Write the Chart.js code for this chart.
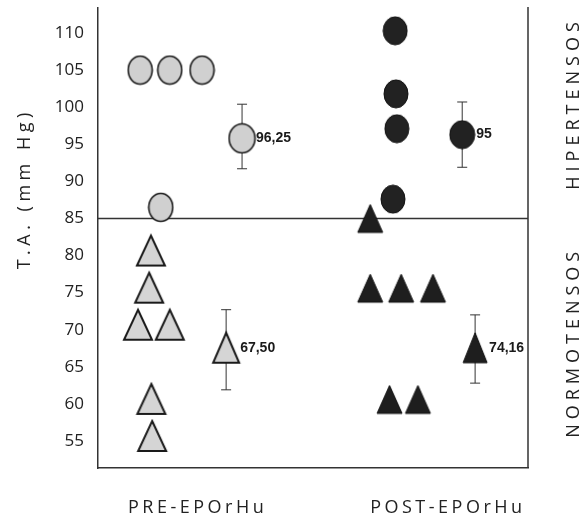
<!DOCTYPE html>
<html>
<head>
<meta charset="utf-8">
<script src="https://cdn.jsdelivr.net/npm/chart.js@4.4.1/dist/chart.umd.min.js"></script>
<style>
  html, body { margin: 0; padding: 0; background: #fff; }
  canvas { display: block; }
</style>
</head>
<body>
<canvas id="chart" width="586" height="518"></canvas>
<script>
// values (y = T.A. mm Hg, x = position inside each column)
const yTicks = [55, 60, 65, 70, 75, 80, 85, 90, 95, 100, 105, 110];
const xTickValues = [22.7, 80.9];
const xTickLabels = ["PRE-EPOrHu", "POST-EPOrHu"];
const cutoff = 85;

const preHiperX = [9.8, 16.7, 24.2, 14.6];
const preHiperY = [105, 105, 105, 86.5];
const preNormoX = [12.3, 11.9, 9.3, 16.7, 12.4, 12.6];
const preNormoY = [80, 75, 70, 70, 60, 55];
const postHiperX = [69.1, 69.3, 69.5, 68.6];
const postHiperY = [110.3, 101.8, 97.1, 87.6];
const postNormoX = [63.3, 63.3, 70.5, 77.9, 67.8, 74.4];
const postNormoY = [84.4, 75, 75, 75, 60, 60];

// group means with error bars
const meanX = [33.5, 29.8, 84.7, 87.7];
const meanY = [95.8, 66.9, 96.3, 66.9];
const meanLow = [91.7, 61.9, 91.9, 62.8];
const meanHigh = [100.4, 72.7, 100.7, 72.0];
const meanLabels = ["96,25", "67,50", "95", "74,16"];
const groupLabels = ["HIPERTENSOS", "NORMOTENSOS"];
const groupCenters = [100.5, 68.3];

Chart.defaults.font.family = "'Open Sans', sans-serif";

function ellipse(w, h, fill, stroke, lw) {
  const c = document.createElement("canvas");
  c.width = w + lw * 2; c.height = h + lw * 2;
  const g = c.getContext("2d");
  g.beginPath();
  g.ellipse(c.width / 2, c.height / 2, w / 2, h / 2, 0, 0, Math.PI * 2);
  g.fillStyle = fill; g.fill();
  g.lineWidth = lw; g.strokeStyle = stroke; g.stroke();
  return c;
}
// centroid of the triangle sits at the canvas centre
function triangle(w, h, fill, stroke, lw) {
  const p = lw * 2;
  const c = document.createElement("canvas");
  c.width = w + p * 2; c.height = Math.round(h * 4 / 3) + p * 2;
  const g = c.getContext("2d");
  const cx = c.width / 2;
  g.beginPath();
  g.moveTo(cx, p); g.lineTo(cx + w / 2, p + h); g.lineTo(cx - w / 2, p + h); g.closePath();
  g.fillStyle = fill; g.fill();
  g.lineWidth = lw; g.strokeStyle = stroke; g.stroke();
  return c;
}

const lightDot = ellipse(24, 28, "#d0d0d0", "#1a1a1a", 1.6);
const lightTri = triangle(28, 30, "#d5d5d5", "#1a1a1a", 2);
const darkDot = ellipse(24, 28, "#222", "#111", 1);
const darkTri = triangle(25, 28, "#1e1e1e", "#111", 1);
const meanStyles = [ellipse(26, 29, "#d0d0d0", "#1a1a1a", 1.6), triangle(26, 30, "#d5d5d5", "#1a1a1a", 2),
                    ellipse(25, 28, "#222", "#111", 1), triangle(24, 30, "#1e1e1e", "#111", 1)];
const meanIsTri = [false, true, false, true];

const pts = (xs, ys) => xs.map((v, i) => ({ x: v, y: ys[i] }));

const overlay = {
  id: "overlay",
  beforeDatasetsDraw(chart) {
    const { ctx, chartArea: a, scales: { x, y } } = chart;
    ctx.save();
    ctx.strokeStyle = "#333";
    ctx.lineWidth = 1.5;
    ctx.beginPath();
    ctx.moveTo(a.right, a.top - 1); ctx.lineTo(a.right, a.bottom);
    const yc = y.getPixelForValue(cutoff);
    ctx.moveTo(a.left, yc); ctx.lineTo(a.right, yc);
    ctx.stroke();
    // error bars
    ctx.lineWidth = 1;
    meanX.forEach((mx, i) => {
      const px = x.getPixelForValue(mx);
      const t = y.getPixelForValue(meanHigh[i]), b = y.getPixelForValue(meanLow[i]);
      ctx.beginPath();
      ctx.moveTo(px, t); ctx.lineTo(px, b);
      ctx.moveTo(px - 5, t); ctx.lineTo(px + 5, t);
      ctx.moveTo(px - 5, b); ctx.lineTo(px + 5, b);
      ctx.stroke();
    });
    ctx.restore();
  },
  afterDatasetsDraw(chart) {
    const { ctx, chartArea: a, scales: { x, y } } = chart;
    ctx.save();
    ctx.fillStyle = "#1a1a1a";
    // mean values
    ctx.font = "bold 14px 'Liberation Sans', Arial, sans-serif";
    ctx.textAlign = "left"; ctx.textBaseline = "middle";
    meanX.forEach((mx, i) => {
      ctx.fillText(meanLabels[i], x.getPixelForValue(mx) + 14,
        y.getPixelForValue(meanY[i]) + (meanIsTri[i] ? -5 : 0));
    });
    // column labels under the axis
    ctx.fillStyle = "#222";
    ctx.font = "18px 'Open Sans', sans-serif";
    ctx.letterSpacing = "3.5px";
    ctx.textAlign = "center"; ctx.textBaseline = "alphabetic";
    xTickValues.forEach((v, i) => ctx.fillText(xTickLabels[i], x.getPixelForValue(v) + 2, a.bottom + 45));
    // rotated texts
    ctx.textBaseline = "middle";
    const vtext = (txt, px, py, sp) => {
      ctx.save();
      ctx.letterSpacing = sp;
      ctx.translate(px, py); ctx.rotate(-Math.PI / 2);
      ctx.fillText(txt, 0, 0);
      ctx.restore();
    };
    vtext("T.A. (mm Hg)", a.left - 73, y.getPixelForValue(89), "4.5px");
    groupLabels.forEach((g, i) => vtext(g, a.right + 46, y.getPixelForValue(groupCenters[i]), "5px"));
    ctx.restore();
  }
};

new Chart(document.getElementById("chart"), {
  type: "scatter",
  data: {
    datasets: [
      { data: pts(preHiperX, preHiperY), pointStyle: lightDot },
      { data: pts(preNormoX, preNormoY), pointStyle: lightTri },
      { data: pts(postHiperX, postHiperY), pointStyle: darkDot },
      { data: pts(postNormoX, postNormoY), pointStyle: darkTri },
      { data: pts(meanX, meanY), pointStyle: meanStyles }
    ]
  },
  options: {
    responsive: false,
    animation: false,
    events: [],
    layout: { padding: { left: 55, right: 58, top: 8, bottom: 50 } },
    plugins: { legend: { display: false }, tooltip: { enabled: false } },
    scales: {
      x: {
        type: "linear", min: 0, max: 100,
        grid: { display: false, drawTicks: false },
        border: { color: "#333", width: 1.5 },
        ticks: { display: false },
        afterFit: (s) => { s.height = 0; s.paddingLeft = 0; s.paddingRight = 0; }
      },
      y: {
        type: "linear", min: 51.36, max: 113.37,
        grid: { display: false, drawTicks: false },
        border: { color: "#333", width: 1.5 },
        afterBuildTicks: (s) => { s.ticks = yTicks.map(v => ({ value: v })); },
        afterFit: (s) => { s.width = 43; s.paddingTop = 0; s.paddingBottom = 0; },
        ticks: { color: "#222", font: { size: 17 }, padding: 14 }
      }
    }
  },
  plugins: [overlay]
});
</script>
</body>
</html>
